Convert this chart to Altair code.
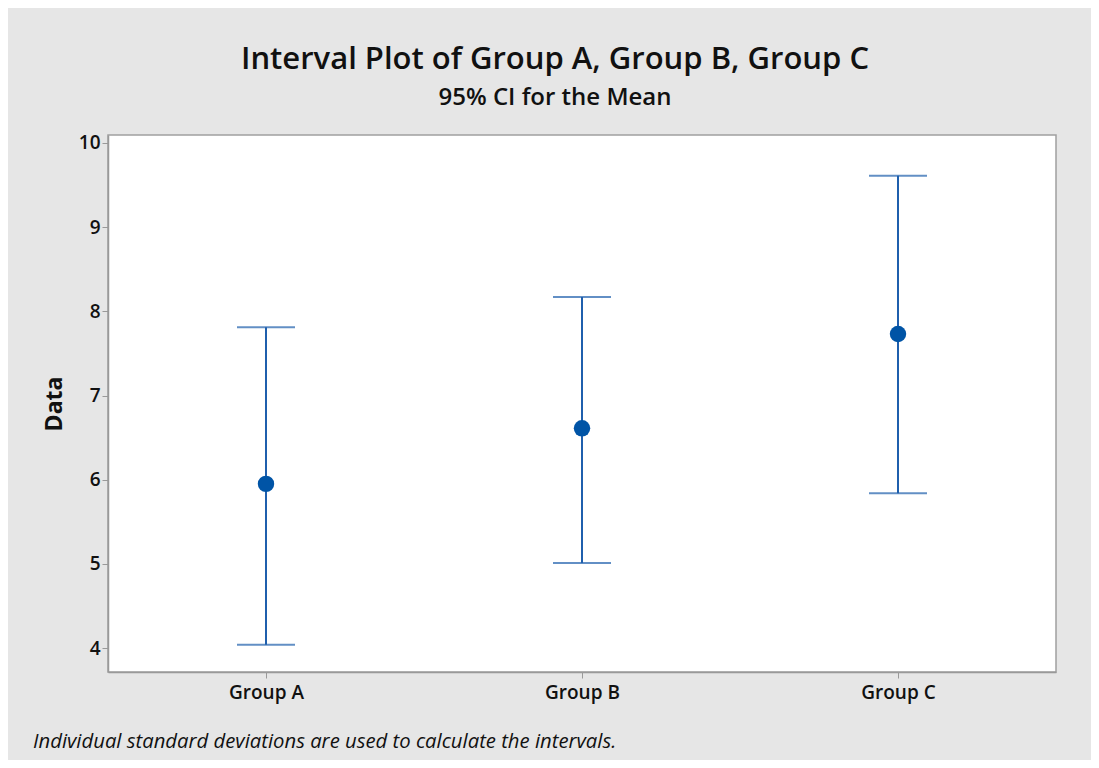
import altair as alt
import pandas as pd

groups = ["Group A", "Group B", "Group C"]
means = [5.95, 6.61, 7.73]
lower = [4.04, 5.01, 5.84]
upper = [7.81, 8.17, 9.61]
y_ticks = [4, 5, 6, 7, 8, 9, 10]

df = pd.DataFrame({"group": groups, "mean": means, "lower": lower, "upper": upper})

FONT = "Open Sans"
LINE = "#1f5fad"
DOT = "#0054a6"

xenc = alt.X("group:N", sort=groups, title=None,
             scale=alt.Scale(type="point", padding=0.5),
             axis=alt.Axis(labelAngle=0, labelFont=FONT, labelFontSize=19, labelFontWeight=600,
                           labelColor="#111", labelPadding=5, tickColor="#999", tickSize=6,
                           domainColor="#999", domainWidth=1.5, grid=False))
yscale = alt.Scale(domain=[3.715, 10.095], nice=False, zero=False)
yaxis = alt.Axis(values=y_ticks, format="d", title="Data", titleFont=FONT, titleFontSize=23,
                 titleFontWeight="bold", titleColor="#111", titlePadding=12,
                 labelFont=FONT, labelFontSize=19, labelFontWeight=600,
                 labelColor="#111", labelPadding=2, tickColor="#999", tickSize=6,
                 domainColor="#999", domainWidth=1.5, grid=False)

base = alt.Chart(df)

rules = base.mark_rule(color=LINE, strokeWidth=2).encode(
    x=xenc, y=alt.Y("lower:Q", scale=yscale, axis=yaxis), y2="upper:Q")
cap_lo = base.mark_tick(color=LINE, size=58, thickness=2).encode(x=xenc, y=alt.Y("lower:Q", scale=yscale))
cap_hi = base.mark_tick(color=LINE, size=58, thickness=2).encode(x=xenc, y=alt.Y("upper:Q", scale=yscale))
points = base.mark_point(filled=True, color=DOT, opacity=1, size=270).encode(
    x=xenc, y=alt.Y("mean:Q", scale=yscale))

note = alt.Chart(pd.DataFrame({"t": ["Individual standard deviations are used to calculate the intervals."]})).mark_text(
    font=FONT, fontSize=20.3, fontStyle="italic", align="left", baseline="middle", color="#111"
).encode(x=alt.value(-75), y=alt.value(607), text="t:N")

chart = alt.layer(rules, cap_lo, cap_hi, points, note).properties(
    width=948, height=537,
    autosize=alt.AutoSizeParams(type="none"),
    padding={"left": 100, "top": 127, "right": 35, "bottom": 88},
    background="#e6e6e6",
    title=alt.Title("Interval Plot of Group A, Group B, Group C",
                    subtitle="95% CI for the Mean",
                    font=FONT, fontSize=31, fontWeight=600, color="#111",
                    subtitleFont=FONT, subtitleFontSize=24, subtitleFontWeight=600, subtitleColor="#111",
                    subtitlePadding=10, anchor="middle", frame="group", dx=-27, offset=23)
).configure_view(stroke="#a0a0a0", strokeWidth=1.5, fill="white")

chart.save("out.html", embed_options={"renderer": "svg", "actions": False})
